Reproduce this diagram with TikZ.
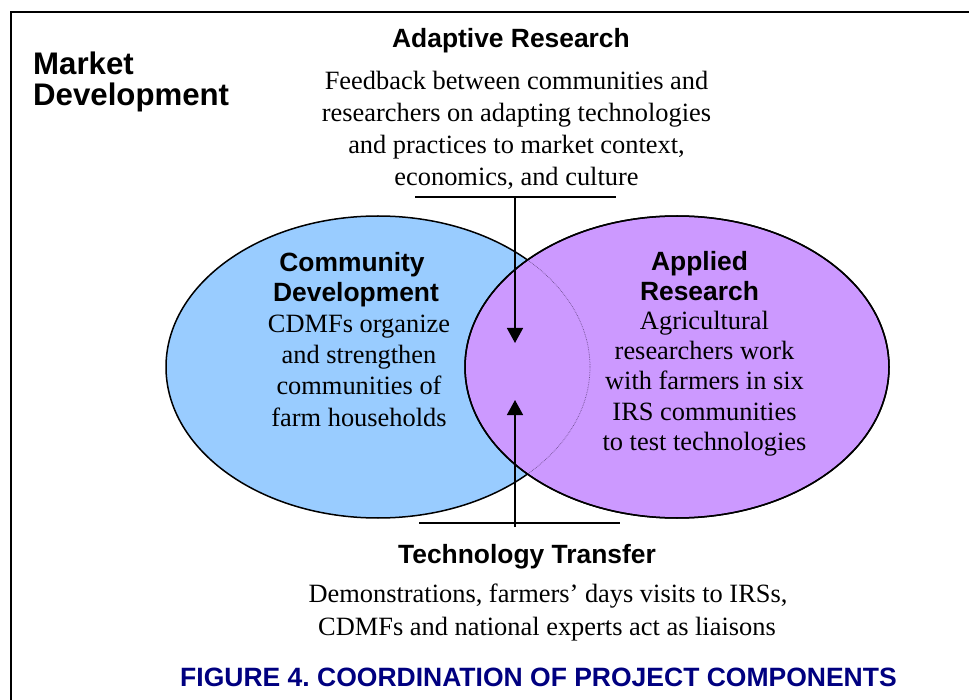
\documentclass[tikz,border=0pt]{standalone}
\usepackage{fontspec}
\setmainfont{Liberation Serif}
\setsansfont{Liberation Sans}
\usetikzlibrary{arrows.meta}
\definecolor{cdblue}{HTML}{99CCFF}
\definecolor{arpurple}{HTML}{CC99FF}
\definecolor{capnavy}{HTML}{000080}
\definecolor{dotline}{HTML}{6F5090}
\frenchspacing
\begin{document}
\begin{tikzpicture}[x=1pt,y=-1pt,
  hd/.style={font=\fontsize{26.4}{31}\selectfont\sffamily\bfseries,anchor=base,inner sep=0pt},
  bd/.style={font=\fontsize{26.4}{31}\selectfont\rmfamily,anchor=base,inner sep=0pt},
  mk/.style={font=\fontsize{31.2}{31}\selectfont\sffamily\bfseries,anchor=base west,inner sep=0pt},
  figcaption/.style={font=\fontsize{26.5}{31}\selectfont\sffamily\bfseries\frenchspacing,text=capnavy,anchor=base,inner sep=0pt},
  circ/.style={draw=black,line width=1.5pt},
  bar/.style={draw=black,line width=1.8pt},
  arr/.style={draw=black,line width=1.5pt,-{Triangle[width=16pt,length=15pt]}}]
\useasboundingbox (0,0) rectangle (969,700);
\fill[white] (0,0) rectangle (969,700);
% frame (top and left edges visible)
\draw[line width=2pt] (11,700) -- (11,12) -- (969,12);

% ellipses
\path[circ,fill=cdblue] (378,367) ellipse [x radius=212,y radius=151];
\path[circ,fill=arpurple] (677,367) ellipse [x radius=212,y radius=151];
\begin{scope}
  \clip (677,367) ellipse [x radius=212,y radius=151];
  \draw[dotline,densely dotted,line width=0.7pt] (378,367) ellipse [x radius=212,y radius=151];
\end{scope}
\draw[line width=1.5pt] (677,367) ellipse [x radius=212,y radius=151];

% market development
\node[mk] (mk1) at (33,75) {Market};
\node[mk] (mk2) at (33,106) {Development};

% adaptive research
\node[hd] (arh) at (511,48) {Adaptive Research};
\node[bd] (ar1) at (516.5,90) {Feedback between communities and};
\node[bd] (ar2) at (516.5,122) {researchers on adapting technologies};
\node[bd] (ar3) at (516.5,154) {and practices to market context,};
\node[bd] (ar4) at (516.5,186) {economics, and culture};

% community development
\node[hd] (cd1) at (352,272) {Community};
\node[hd] (cd2) at (356,302) {Development};
\node[bd] (cd3) at (359,333) {CDMFs organize};
\node[bd] (cd4) at (359,364) {and strengthen};
\node[bd] (cd5) at (359,395) {communities of};
\node[bd] (cd6) at (359,426) {farm households};

% applied research
\node[hd] (ap1) at (699.5,271) {Applied};
\node[hd] (ap2) at (699.5,301) {Research};
\node[bd] (ap3) at (704.5,330) {Agricultural};
\node[bd] (ap4) at (704.5,360) {researchers work};
\node[bd] (ap5) at (704.5,390) {with farmers in six};
\node[bd] (ap6) at (704.5,420) {IRS communities};
\node[bd] (ap7) at (704.5,450) {to test technologies};

% bars and arrows
\coordinate (tbl) at (415,197);
\coordinate (tbr) at (616,197);
\coordinate (tbm) at (515,197);
\coordinate (ttip) at (515,343);
\coordinate (bbl) at (419,523);
\coordinate (bbr) at (620,523);
\coordinate (bbm) at (515,527);
\coordinate (btip) at (515,400);
\draw[bar] (tbl) -- (tbr);
\draw[bar] (bbl) -- (bbr);
\draw[arr] (tbm) -- (ttip);
\draw[arr] (bbm) -- (btip);

% technology transfer
\node[hd] (tth) at (527,563) {Technology Transfer};
\node[bd] (tt1) at (548,602) {Demonstrations, farmers’ days visits to IRSs,};
\node[bd] (tt2) at (547,635) {CDMFs and national experts act as liaisons};

% caption
\node[figcaption] (fig) at (538.5,686) {FIGURE 4. COORDINATION OF PROJECT COMPONENTS};
\end{tikzpicture}
\end{document}
